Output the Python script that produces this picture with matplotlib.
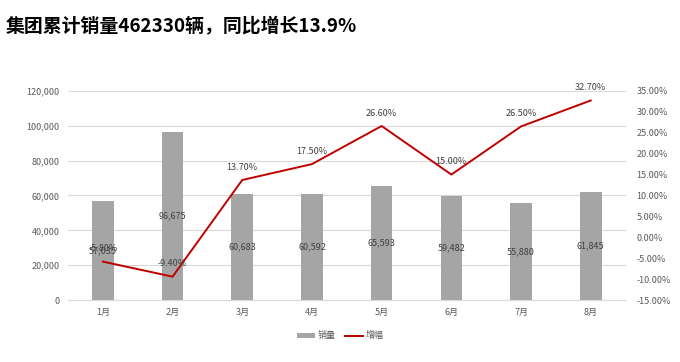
import matplotlib.pyplot as plt
import matplotlib.ticker as mticker

plt.rcParams['font.family'] = ['Noto Sans CJK SC', 'DejaVu Sans']

months = ['1月', '2月', '3月', '4月', '5月', '6月', '7月', '8月']
sales = [57035, 96675, 60683, 60592, 65593, 59482, 55880, 61845]
growth = [-5.80, -9.40, 13.70, 17.50, 26.60, 15.00, 26.50, 32.70]

grey_text = '#595959'

fig = plt.figure(figsize=(6.8, 3.62), dpi=100)
ax = fig.add_axes([0.1, 0.171, 0.82, 0.578])
x = range(len(months))

# bars: monthly sales
bars = ax.bar(x, sales, width=0.31, color='#A5A5A5', label='销量', zorder=2)
ax.set_xlim(-0.5, 7.5)
ax.set_ylim(0, 120000)
ax.set_yticks(range(0, 120001, 20000))
ax.yaxis.set_major_formatter(mticker.FuncFormatter(lambda v, p: f'{int(v):,}'))
ax.grid(axis='y', color='#D9D9D9', linewidth=0.8, zorder=0)
ax.set_xticks(list(x))
ax.set_xticklabels(months)
for s in ax.spines.values():
    s.set_visible(False)
ax.spines['bottom'].set_visible(True)
ax.spines['bottom'].set_color('#D9D9D9')
ax.tick_params(length=0, labelsize=6.5, colors=grey_text, pad=6)

for i, v in enumerate(sales):
    ax.text(i, v / 2, f'{v:,}', ha='center', va='center', fontsize=6.5, color='#404040', zorder=4)

# line: growth rate on right axis
ax2 = ax.twinx()
ax2.set_ylim(-15, 35)
ax2.set_yticks(range(-15, 36, 5))
ax2.yaxis.set_major_formatter(mticker.FuncFormatter(lambda v, p: f'{v:.2f}%'))
for s in ax2.spines.values():
    s.set_visible(False)
ax2.tick_params(length=0, labelsize=6.5, colors=grey_text, pad=8)
line, = ax2.plot(list(x), growth, color='#C00000', linewidth=1.4, label='增幅', zorder=3)
for i, g in enumerate(growth):
    ax2.annotate(f'{g:.2f}%', (i, g), xytext=(0, 6), textcoords='offset points',
                 ha='center', va='bottom', fontsize=6.5, color='#404040')

fig.legend([bars, line], ['销量', '增幅'], loc='center', bbox_to_anchor=(0.5, 0.072),
           ncol=2, frameon=False, fontsize=6.5, labelcolor=grey_text,
           handlelength=2.0, handleheight=0.5, columnspacing=1.0, handletextpad=0.3)

fig.text(0.008, 0.925, '集团累计销量462330辆，同比增长13.9%', fontsize=13.6,
         fontweight='bold', ha='left', va='center', color='black')

fig.savefig('out.png', dpi=100)
